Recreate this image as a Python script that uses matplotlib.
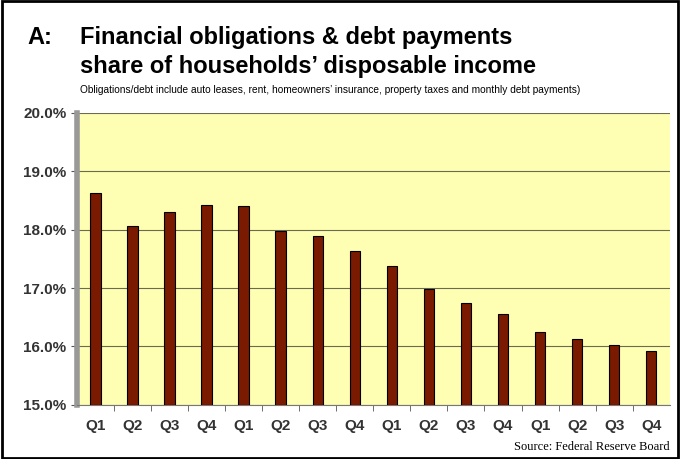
import matplotlib.pyplot as plt
from matplotlib.patches import Rectangle

quarters = ['Q1', 'Q2', 'Q3', 'Q4'] * 4
share = [18.63, 18.07, 18.30, 18.43, 18.41, 17.97, 17.90, 17.63,
         17.37, 16.98, 16.75, 16.55, 16.25, 16.13, 16.02, 15.93]
yticks = [15, 16, 17, 18, 19, 20]

fig = plt.figure(figsize=(6.8, 4.59), dpi=100)
fig.patches.append(Rectangle((0.003, 0.003), 0.994, 0.994, transform=fig.transFigure,
                             fill=False, edgecolor='black', linewidth=2))

ax = fig.add_axes([0.113, 0.118, 0.872, 0.636])
ax.set_facecolor('#ffffb3')
x = range(len(share))
ax.bar(x, [v - 15 for v in share], bottom=15, width=0.28, color='#7a1a00',
       edgecolor='black', linewidth=0.8, zorder=3)
ax.set_xlim(-0.5, len(share) - 0.5)
ax.set_ylim(15, 20)
ax.set_yticks(yticks)
ax.set_yticklabels([f'{t:.1f}%' for t in yticks], fontsize=11, fontweight='bold',
                   color='#333333', family='Liberation Sans')
ax.set_xticks(list(x))
ax.set_xticklabels(quarters, fontsize=11, fontweight='bold', color='#333333',
                   family='Liberation Sans')
ax.set_xticks([i + 0.5 for i in range(len(share) - 1)], minor=True)
ax.tick_params(axis='x', which='major', length=0, pad=10)
ax.tick_params(axis='x', which='minor', length=4, color='#555555')
ax.tick_params(axis='y', length=4, color='#555555')
ax.grid(axis='y', color='#6b6b50', linewidth=0.8, zorder=1)
for s in ['top', 'right']:
    ax.spines[s].set_visible(False)
ax.spines['left'].set_color('#999999')
ax.spines['left'].set_linewidth(4)
ax.spines['bottom'].set_color('#777777')

tfont = dict(fontsize=17, fontweight='bold', family='Liberation Sans')
fig.text(0.04, 0.905, 'A:', **tfont)
fig.text(0.118, 0.905, 'Financial obligations & debt payments', **tfont)
fig.text(0.118, 0.84, 'share of households\u2019 disposable income', **tfont)
fig.text(0.118, 0.797, 'Obligations/debt include auto leases, rent, homeowners\u2019 insurance, '
         'property taxes and monthly debt payments)', fontsize=7.3,
         family='Liberation Sans')
fig.text(0.985, 0.02, 'Source: Federal Reserve Board', fontsize=9, ha='right',
         family='Liberation Serif')

fig.savefig('out.png', dpi=100)
